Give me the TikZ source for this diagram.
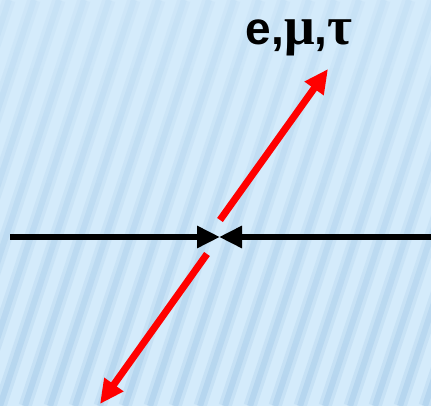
\documentclass[tikz,border=0pt]{standalone}
\usepackage{fontspec}
\setmainfont{Liberation Sans}
\newfontfamily\symfont{Liberation Serif}
\usetikzlibrary{arrows.meta,fadings}
\definecolor{bgbase}{HTML}{D4EBFB}
\definecolor{stripeA}{HTML}{C6E1F5}
\definecolor{stripeB}{HTML}{B6D6EF}
\definecolor{arrred}{HTML}{FF0000}
\tikzset{
  blackarrow/.style={line width=6pt, black, -{Triangle[length=23pt,width=21pt]}},
  redarrow/.style={line width=7pt, arrred, -{Triangle[length=24pt,width=22pt]}},
  stripewide/.style={line width=13pt, stripeA},
  stripenarrow/.style={line width=6pt, stripeB},
}
\newcommand{\grk}[1]{{\symfont\fontsize{54}{58}\selectfont #1}}
\begin{document}
\begin{tikzpicture}[x=1pt,y=1pt]
\useasboundingbox (0,0) rectangle (431,406);
\fill[bgbase] (0,0) rectangle (431,406);
\begin{scope}
\clip (0,0) rectangle (431,406);
\foreach \i in {-8,...,18} {
  \draw[stripewide] (\i*25,0) -- ({\i*25+0.33*406},406);
  \draw[stripenarrow] (\i*25,0) -- ({\i*25+0.33*406},406);
}
\fill[bgbase, path fading=south, opacity=0.6] (0,0) rectangle (431,406);
\end{scope}
\coordinate (Lstart) at (10,169);
\coordinate (Ltip) at (220,169);
\coordinate (Rstart) at (431,169);
\coordinate (Rtip) at (219,169);
\draw[blackarrow] (Lstart) -- (Ltip);
\draw[blackarrow] (Rstart) -- (Rtip);
\coordinate (Ustart) at (220,186);
\coordinate (Utip) at (328,337);
\coordinate (Dstart) at (207,152);
\coordinate (Dtip) at (100,2);
\draw[redarrow] (Ustart) -- (Utip);
\draw[redarrow] (Dstart) -- (Dtip);
\node[font=\fontsize{46}{50}\selectfont\bfseries, inner sep=0pt, anchor=base] (lbl) at (299,361) {e,\grk{μ},\grk{τ}};
\end{tikzpicture}
\end{document}
